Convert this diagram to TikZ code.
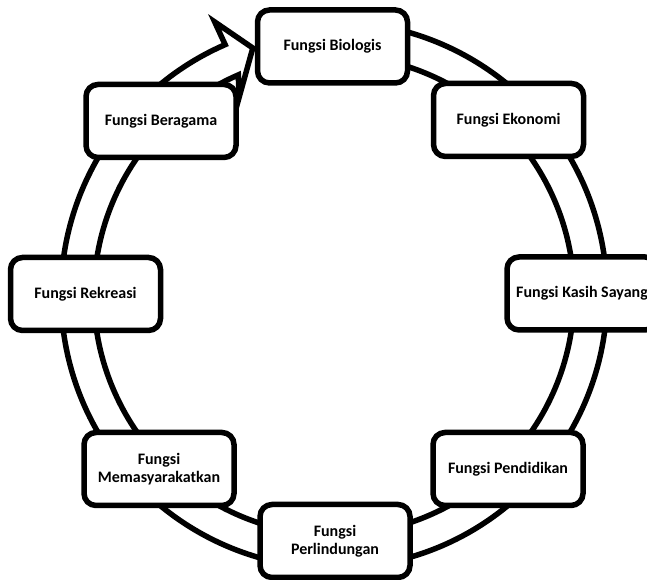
\documentclass[tikz,border=0pt]{standalone}
\usepackage{fontspec}
\setmainfont{Carlito}
\begin{document}
\begin{tikzpicture}[x=1pt,y=1pt,
  fungsi/.style={draw=black, line width=5.5pt, fill=white, rounded corners=12pt,
    minimum width=150pt, minimum height=73pt, align=center, inner sep=2pt,
    font=\fontsize{16}{17.5}\selectfont\bfseries},
  ringarrow/.style={draw=black, line width=5.5pt, fill=white, line join=miter}]
\useasboundingbox (0,0) rectangle (647,580);
\clip (0,0) rectangle (647,580);

% circular block arrow running clockwise round the hub
\coordinate (hub) at (334,285);
\begin{scope}[shift={(hub)}]
  \draw[ringarrow] (100:273) arc[start angle=100, end angle=-246.5, radius=273pt]
    -- (113.6:298) -- (108.2:260) -- (115.7:219) -- (113.5:240)
    arc[start angle=-246.5, end angle=100, radius=240pt] -- cycle;
\end{scope}

% the eight family functions
\node[fungsi] (biologis)   at (332.5,533.5) {Fungsi Biologis};
\node[fungsi] (ekonomi)    at (508.5,460)   {Fungsi Ekonomi};
\node[fungsi] (kasih)      at (582,286.5)   {Fungsi Kasih Sayang};
\node[fungsi] (pendidikan) at (508,111)     {Fungsi Pendidikan};
\node[fungsi] (lindung)    at (335,39)      {Fungsi\\Perlindungan};
\node[fungsi] (masyarakat) at (159,111)     {Fungsi\\Memasyarakatkan};
\node[fungsi] (rekreasi)   at (85.5,286)    {Fungsi Rekreasi};
\node[fungsi] (beragama)   at (161,459)     {Fungsi Beragama};
\end{tikzpicture}
\end{document}
